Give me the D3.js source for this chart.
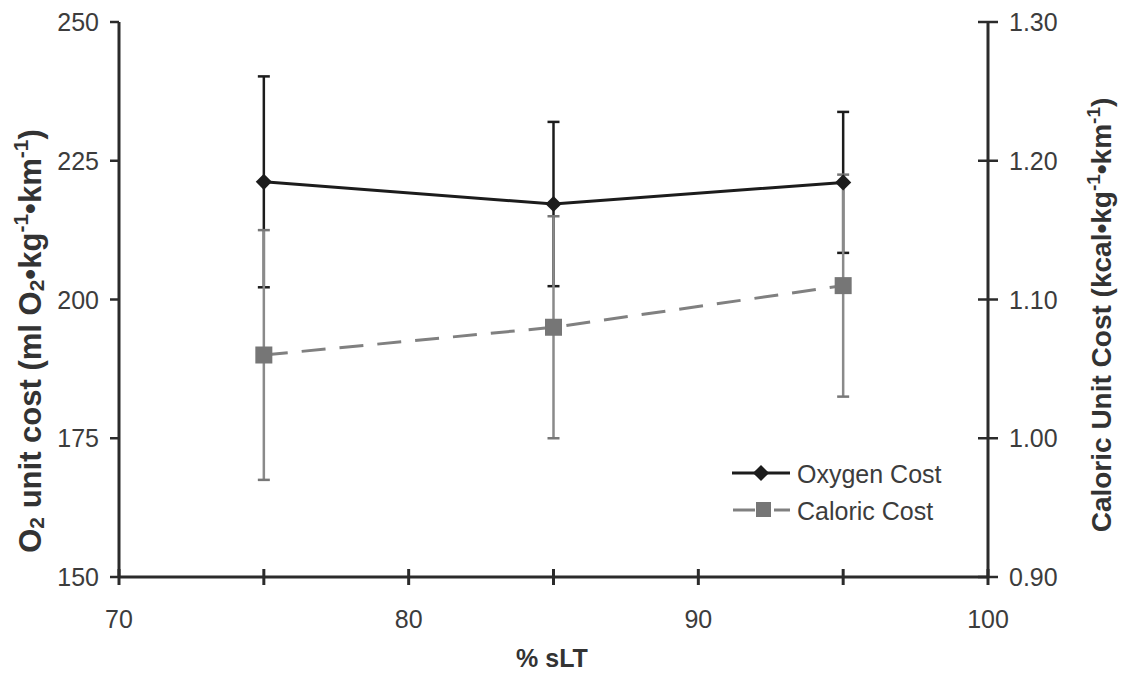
<!DOCTYPE html>
<html><head><meta charset="utf-8">
<script src="https://cdn.jsdelivr.net/npm/d3@7"></script>
<style>
html,body{margin:0;padding:0;background:#fff;}
svg text{font-family:"Liberation Sans",Arial,sans-serif;}
</style></head>
<body>
<svg id="chart" width="1125" height="673"></svg>
<script>
const xValues = [75, 85, 95];
const oxygenMean = [221.2, 217.2, 221.1];
const oxygenSD = [19.0, 14.8, 12.7];
const caloricMean = [1.06, 1.08, 1.11];
const caloricSD = [0.09, 0.08, 0.08];
const xMajorTicks = [70, 80, 90, 100];
const xMinorTicks = [75, 85, 95];
const yLeftTicks = [150, 175, 200, 225, 250];
const yRightTicks = [0.90, 1.00, 1.10, 1.20, 1.30];
const seriesNames = ["Oxygen Cost", "Caloric Cost"];

const svg = d3.select("#chart");
const x = d3.scaleLinear().domain([70, 100]).range([119, 988]);
const yL = d3.scaleLinear().domain([150, 250]).range([577, 22]);
const yR = d3.scaleLinear().domain([0.90, 1.30]).range([577, 22]);

const axisColor = "#2b2b2b";
const textColor = "#3c3c3c";
const black = "#1c1c1c";
const gray = "#808080";
const tickFont = 25;

const g = svg.append("g");
g.append("line").attr("x1", x(70)).attr("x2", x(70)).attr("y1", yL(250)).attr("y2", yL(150))
  .attr("stroke", axisColor).attr("stroke-width", 3);
g.append("line").attr("x1", x(100)).attr("x2", x(100)).attr("y1", yR(1.30)).attr("y2", yR(0.90))
  .attr("stroke", axisColor).attr("stroke-width", 3);
g.append("line").attr("x1", x(70)).attr("x2", x(100)).attr("y1", yL(150)).attr("y2", yL(150))
  .attr("stroke", axisColor).attr("stroke-width", 3);

yLeftTicks.forEach(v => {
  g.append("line").attr("x1", x(70) - 9).attr("x2", x(70)).attr("y1", yL(v)).attr("y2", yL(v))
    .attr("stroke", axisColor).attr("stroke-width", 2.5);
  g.append("text").attr("x", 99).attr("y", yL(v)).attr("dy", "0.36em").attr("text-anchor", "end")
    .attr("font-size", tickFont).attr("fill", textColor).text(v);
});
yRightTicks.forEach(v => {
  g.append("line").attr("x1", x(100) - 10).attr("x2", x(100) + 10).attr("y1", yR(v)).attr("y2", yR(v))
    .attr("stroke", axisColor).attr("stroke-width", 2.5);
  g.append("text").attr("x", 1009).attr("y", yR(v)).attr("dy", "0.36em").attr("text-anchor", "start")
    .attr("font-size", tickFont).attr("fill", textColor).text(v.toFixed(2));
});
xMajorTicks.concat(xMinorTicks).forEach(v => {
  g.append("line").attr("x1", x(v)).attr("x2", x(v)).attr("y1", yL(150) - 8).attr("y2", yL(150) + 8)
    .attr("stroke", axisColor).attr("stroke-width", 3);
});
xMajorTicks.forEach(v => {
  g.append("text").attr("x", x(v)).attr("y", 619).attr("dy", "0.36em").attr("text-anchor", "middle")
    .attr("font-size", tickFont).attr("fill", textColor).text(v);
});

svg.append("text").attr("x", 552).attr("y", 667).attr("text-anchor", "middle")
  .attr("font-size", 25).attr("font-weight", "bold").attr("fill", "#333").text("% sLT");

function supTitle(tx, ty, parts, fs, ss) {
  const t = svg.append("text").attr("transform", `translate(${tx},${ty}) rotate(-90)`)
    .attr("text-anchor", "middle").attr("font-size", fs).attr("font-weight", "bold").attr("fill", "#333");
  parts.forEach(p => {
    const s = t.append("tspan").text(p[0]);
    if (p[1] === "sup") s.attr("font-size", ss).attr("baseline-shift", "60%");
    if (p[1] === "sub") s.attr("font-size", ss).attr("baseline-shift", "-15%");
  });
}
supTitle(41, 341, [["O"], ["2", "sub"], [" unit cost (ml O"], ["2", "sub"], ["•kg"], ["-1", "sup"], ["•km"], ["-1", "sup"], [")"]], 31, 21);
supTitle(1111, 315, [["Caloric Unit Cost (kcal•kg"], ["-1", "sup"], ["•km"], ["-1", "sup"], [")"]], 28, 19);

const cap = 6;
xValues.forEach((xv, i) => {
  const top = yL(oxygenMean[i] + oxygenSD[i]), bot = yL(oxygenMean[i] - oxygenSD[i]);
  g.append("line").attr("x1", x(xv)).attr("x2", x(xv)).attr("y1", top).attr("y2", bot)
    .attr("stroke", black).attr("stroke-width", 2.5);
  [top, bot].forEach(yy => g.append("line").attr("x1", x(xv) - cap).attr("x2", x(xv) + cap)
    .attr("y1", yy).attr("y2", yy).attr("stroke", black).attr("stroke-width", 2.5));
});
xValues.forEach((xv, i) => {
  const top = yR(caloricMean[i] + caloricSD[i]), bot = yR(caloricMean[i] - caloricSD[i]);
  g.append("line").attr("x1", x(xv)).attr("x2", x(xv)).attr("y1", top).attr("y2", bot)
    .attr("stroke", "#8a8a8a").attr("stroke-width", 2.5);
  [top, bot].forEach(yy => g.append("line").attr("x1", x(xv) - cap).attr("x2", x(xv) + cap)
    .attr("y1", yy).attr("y2", yy).attr("stroke", "#777").attr("stroke-width", 2.5));
});

const oxyData = xValues.map((v, i) => [v, oxygenMean[i]]);
const calData = xValues.map((v, i) => [v, caloricMean[i]]);
g.append("path").datum(calData)
  .attr("d", d3.line().x(d => x(d[0])).y(d => yR(d[1])))
  .attr("fill", "none").attr("stroke", gray).attr("stroke-width", 3).attr("stroke-dasharray", "24,14");
g.append("path").datum(oxyData)
  .attr("d", d3.line().x(d => x(d[0])).y(d => yL(d[1])))
  .attr("fill", "none").attr("stroke", black).attr("stroke-width", 3);

const dia = d3.symbol().type(d3.symbolSquare).size(130)();
g.selectAll(".dia").data(oxyData).join("path").attr("class", "dia")
  .attr("d", dia)
  .attr("transform", d => `translate(${x(d[0])},${yL(d[1])}) rotate(45)`)
  .attr("fill", black);
g.selectAll(".sq").data(calData).join("rect").attr("class", "sq")
  .attr("x", d => x(d[0]) - 8.5).attr("y", d => yR(d[1]) - 8.5).attr("width", 17).attr("height", 17)
  .attr("fill", "#767676");

const lg = svg.append("g");
lg.append("line").attr("x1", 732).attr("x2", 790).attr("y1", 473).attr("y2", 473)
  .attr("stroke", black).attr("stroke-width", 3);
lg.append("path").attr("d", dia)
  .attr("transform", "translate(761,473) rotate(45)").attr("fill", black);
lg.append("text").attr("x", 797).attr("y", 474).attr("dy", "0.36em").attr("font-size", 25)
  .attr("fill", textColor).text(seriesNames[0]);
lg.append("line").attr("x1", 733).attr("x2", 755).attr("y1", 510).attr("y2", 510)
  .attr("stroke", gray).attr("stroke-width", 3);
lg.append("line").attr("x1", 774).attr("x2", 790).attr("y1", 510).attr("y2", 510)
  .attr("stroke", gray).attr("stroke-width", 3);
lg.append("rect").attr("x", 756).attr("y", 502).attr("width", 15).attr("height", 15).attr("fill", "#767676");
lg.append("text").attr("x", 797).attr("y", 511).attr("dy", "0.36em").attr("font-size", 25)
  .attr("fill", textColor).text(seriesNames[1]);
</script>
</body></html>
